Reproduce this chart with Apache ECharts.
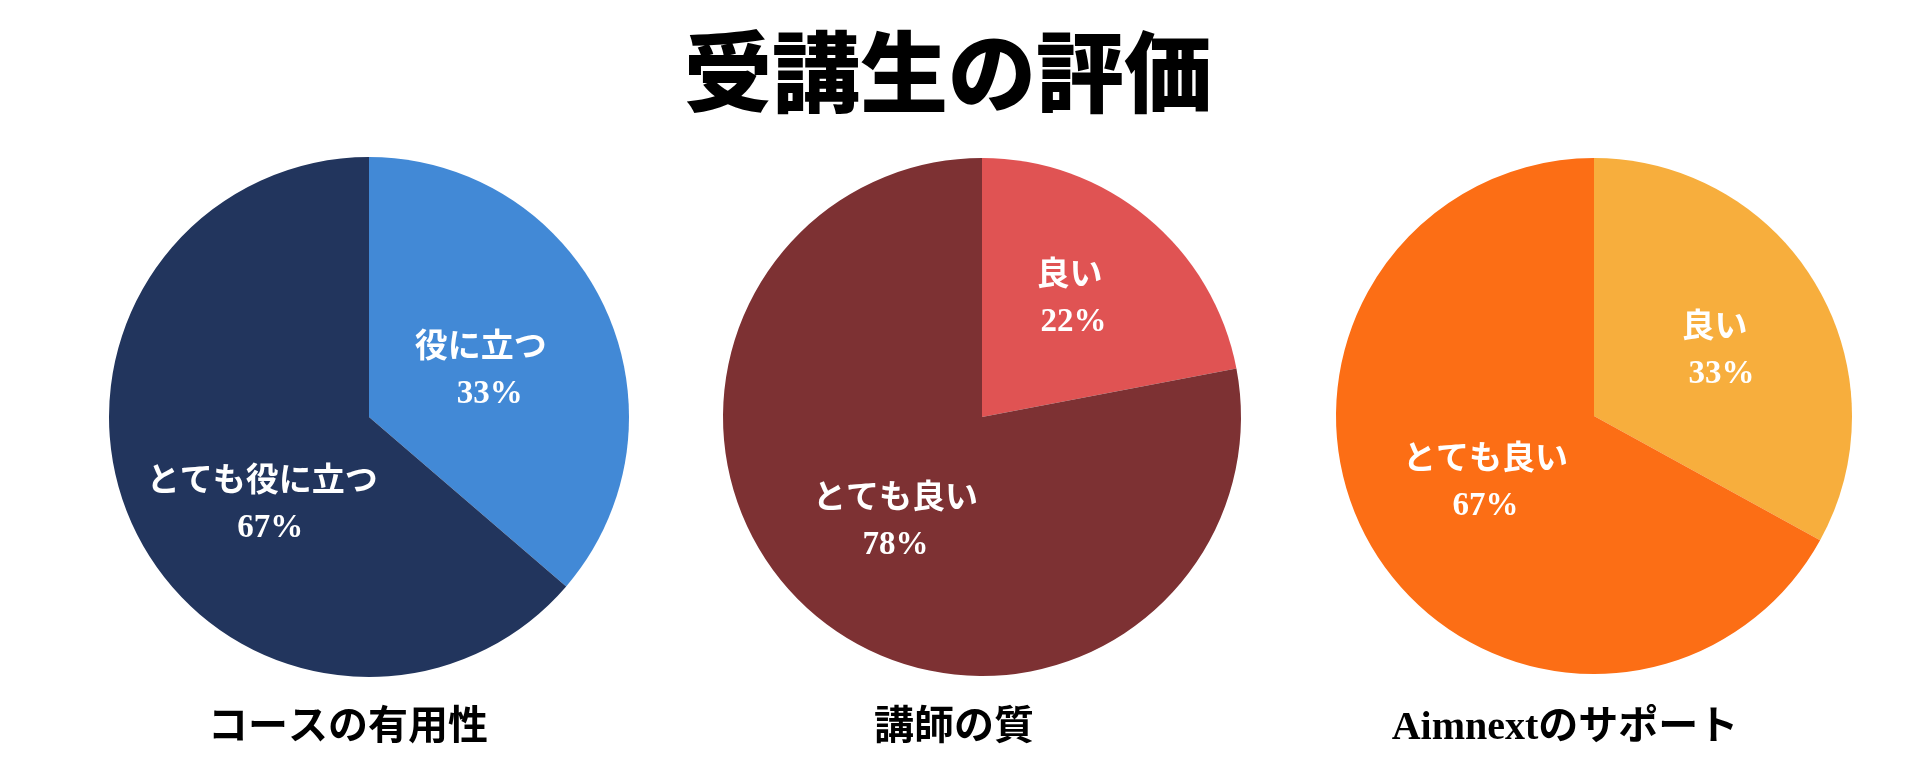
<!DOCTYPE html>
<html>
<head>
<meta charset="utf-8">
<script src="https://cdn.jsdelivr.net/npm/echarts@6/dist/echarts.min.js"></script>
<style>
html,body{margin:0;padding:0;background:#fff;}
#chart{width:1920px;height:780px;}
</style>
</head>
<body>
<div id="chart"></div>
<script>
// ---- data ----
const mainTitle = '受講生の評価';
const groupTitles = ['コースの有用性', '講師の質', 'Aimnextのサポート'];

const pie1Names = ['役に立つ', 'とても役に立つ'];
const pie1Values = [36.3, 63.7];
const pie1Labels = ['33%', '67%'];

const pie2Names = ['良い', 'とても良い'];
const pie2Values = [22, 78];
const pie2Labels = ['22%', '78%'];

const pie3Names = ['良い', 'とても良い'];
const pie3Values = [33, 67];
const pie3Labels = ['33%', '67%'];

// ---- layout / style ----
const centers = [[369, 417], [982, 417], [1594, 416]];
const radii = [260, 259, 258];
const colors = [['#4289d6', '#22355d'], ['#e05353', '#7d3133'], ['#f7ae3d', '#fc6e15']];
const labelOffsets = [[[-9, 8], [14, 31]], [[3, -17], [-2, 1]], [[7, 1], [5, -2]]];
const pctPads = [[18, 16], [8, 0], [14, 0]];
const titleCenters = [348, 954, 1565];

const FONT = '"Liberation Serif", "Noto Sans CJK JP", serif';
const JP = '"Noto Sans CJK JP", sans-serif';

const pies = [
  [pie1Names, pie1Values, pie1Labels],
  [pie2Names, pie2Values, pie2Labels],
  [pie3Names, pie3Values, pie3Labels]
];

const series = pies.map(function (p, si) {
  const names = p[0], values = p[1], labels = p[2];
  return {
    type: 'pie',
    center: centers[si],
    radius: radii[si],
    startAngle: 90,
    clockwise: true,
    silent: true,
    animation: false,
    labelLine: { show: false },
    emphasis: { disabled: true },
    data: names.map(function (n, i) {
      const rich = {
        n: { fontFamily: JP, fontWeight: 'bold', fontSize: 33, color: '#ffffff', lineHeight: 50 },
        p: { fontFamily: FONT, fontWeight: 'bold', fontSize: 33, color: '#ffffff', lineHeight: 50, padding: [0, 0, 0, pctPads[si][i]] }
      };
      return {
        name: n,
        value: values[i],
        itemStyle: { color: colors[si][i] },
        label: {
          show: true,
          position: 'inside',
          offset: labelOffsets[si][i],
          formatter: '{n|' + n + '}\n{p|' + labels[i] + '}',
          rich: rich
        }
      };
    })
  };
});

const titles = [{
  text: mainTitle,
  left: 948,
  top: 28,
  padding: 0,
  textAlign: 'center',
  textStyle: { fontFamily: JP, fontWeight: 900, fontSize: 88, color: '#000000' }
}].concat(groupTitles.map(function (t, i) {
  return {
    text: t,
    left: titleCenters[i],
    top: 709,
    padding: 0,
    textAlign: 'center',
    textStyle: { fontFamily: FONT, fontWeight: 'bold', fontSize: 40, color: '#000000' }
  };
}));

const chart = echarts.init(document.getElementById('chart'), null, { renderer: 'canvas' });
chart.setOption({
  backgroundColor: '#ffffff',
  animation: false,
  title: titles,
  series: series
});
</script>
</body>
</html>
